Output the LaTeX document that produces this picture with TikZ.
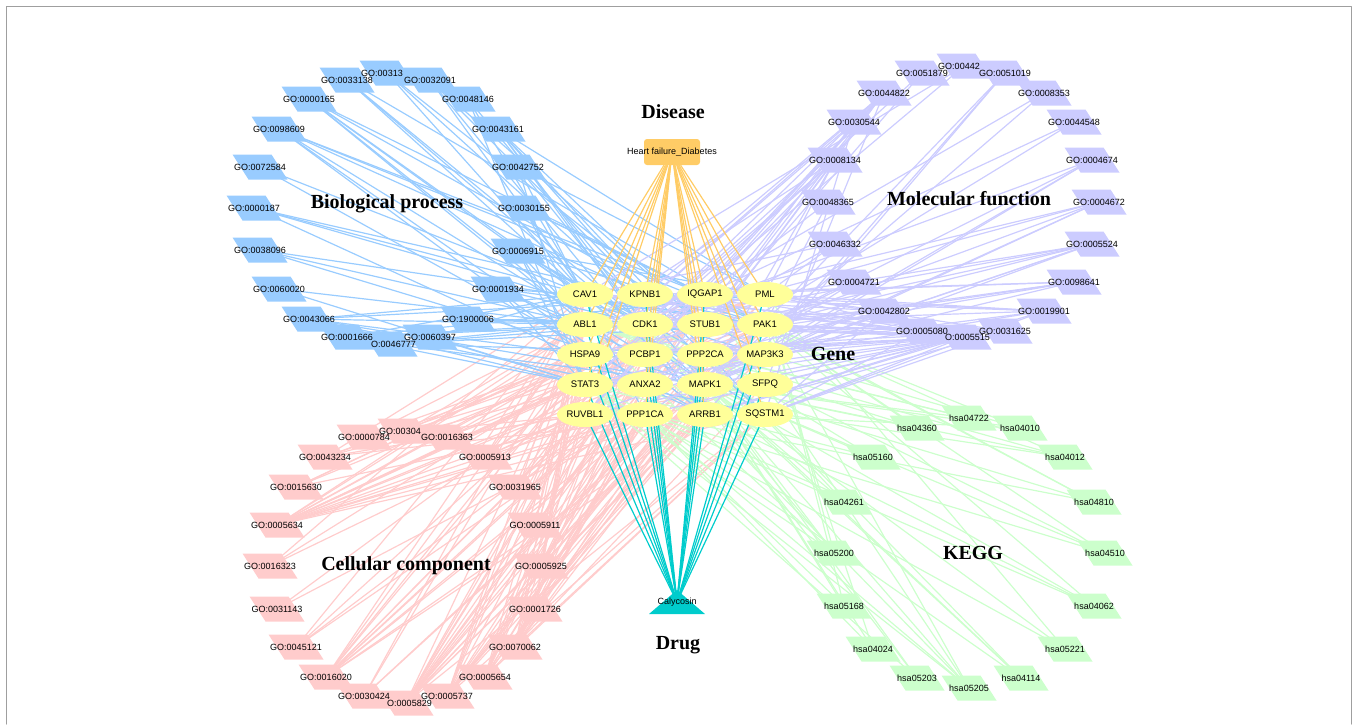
\documentclass[tikz,border=0pt]{standalone}
\usepackage{fontspec}
\setmainfont{Liberation Serif}
\setsansfont{Liberation Sans}
\usetikzlibrary{shapes.geometric}
\pgfdeclarelayer{background}
\pgfsetlayers{background,main}

\definecolor{bpblue}{RGB}{153,204,255}
\definecolor{mfviolet}{RGB}{204,204,255}
\definecolor{ccpink}{RGB}{255,204,204}
\definecolor{kegggreen}{RGB}{204,255,204}
\definecolor{genefill}{RGB}{255,255,153}
\definecolor{disorange}{RGB}{255,204,102}
\definecolor{drugteal}{RGB}{0,204,204}

\tikzset{
  term/.style={rectangle, minimum width=55pt, minimum height=25pt, inner sep=0pt,
    path picture={\fill[#1] (path picture bounding box.north west) --
      ([xshift=-16pt]path picture bounding box.north east) -- (path picture bounding box.south east) --
      ([xshift=16pt]path picture bounding box.south west) -- cycle;}},
  termtext/.style={font=\sffamily\fontsize{9}{9}\selectfont, inner sep=0pt},
  gene/.style={ellipse, fill=genefill, minimum width=56pt, minimum height=25pt,
    inner sep=0pt, font=\sffamily\fontsize{9.5}{10}\selectfont},
  disnode/.style={rectangle, rounded corners=3pt, fill=disorange, minimum width=56pt,
    minimum height=26pt, inner sep=0pt},
  drugnode/.style={minimum width=56pt, minimum height=24pt, inner sep=0pt,
    font=\sffamily\fontsize{9}{9}\selectfont,
    path picture={\fill[drugteal] (path picture bounding box.south west) --
      (path picture bounding box.south east) -- (path picture bounding box.north) -- cycle;}},
  grouptitle/.style={font=\bfseries\fontsize{20}{20}\selectfont, inner sep=0pt},
  link/.style={line width=1.2pt},
}

% terms: name/x/y/text
\def\bpterms{bp1/347/80/{GO:0033138}, bp2/387/73/{GO:00313\phantom{97}}, bp3/430/80/{GO:0032091},
  bp4/468/99/{GO:0048146}, bp5/309/99/{GO:0000165}, bp6/279/129/{GO:0098609},
  bp7/498/129/{GO:0043161}, bp8/260/167/{GO:0072584}, bp9/518/167/{GO:0042752},
  bp10/254/208/{GO:0000187}, bp11/524/208/{GO:0030155}, bp12/260/250/{GO:0038096},
  bp13/518/251/{GO:0006915}, bp14/279/289/{GO:0060020}, bp15/498/289/{GO:0001934},
  bp16/309/319/{GO:0043066}, bp17/468/319/{GO:1900006}, bp18/347/337/{GO:0001666},
  bp19/390/344/{\phantom{G}O:0046777}, bp20/430/337/{GO:0060397}}
\def\mfterms{mf1/922/73/{GO:0051879}, mf2/964/66/{GO:00442\phantom{97}}, mf3/1005/73/{GO:0051019},
  mf4/884/93/{GO:0044822}, mf5/1044/93/{GO:0008353}, mf6/854/122/{GO:0030544},
  mf7/1074/122/{GO:0044548}, mf8/835/160/{GO:0008134}, mf9/1092/160/{GO:0004674},
  mf10/828/202/{GO:0048365}, mf11/1099/202/{GO:0004672}, mf12/835/244/{GO:0046332},
  mf13/1092/244/{GO:0005524}, mf14/854/282/{GO:0004721}, mf15/1074/282/{GO:0098641},
  mf16/884/311/{GO:0042802}, mf17/1044/311/{GO:0019901}, mf18/922/331/{GO:0005080},
  mf19/964/337/{\phantom{G}O:0005515}, mf20/1005/331/{GO:0031625}}
\def\ccterms{cc1/364/437/{GO:0000784}, cc2/405/431/{GO:00304\phantom{26}}, cc3/447/437/{GO:0016363},
  cc4/325/457/{GO:0043234}, cc5/485/457/{GO:0005913}, cc6/296/487/{GO:0015630},
  cc7/515/487/{GO:0031965}, cc8/277/525/{GO:0005634}, cc9/535/525/{GO:0005911},
  cc10/270/566/{GO:0016323}, cc11/541/566/{GO:0005925}, cc12/277/609/{GO:0031143},
  cc13/535/609/{GO:0001726}, cc14/296/647/{GO:0045121}, cc15/515/647/{GO:0070062},
  cc16/326/677/{GO:0016020}, cc17/485/677/{GO:0005654}, cc18/364/696/{GO:0030424},
  cc19/406/703/{\phantom{G}O:0005829}, cc20/447/696/{GO:0005737}}
\def\kgterms{kg1/969/418/{hsa04722}, kg2/917/428/{hsa04360}, kg3/1020/428/{hsa04010},
  kg4/873/457/{hsa05160}, kg5/1065/457/{hsa04012}, kg6/844/502/{hsa04261},
  kg7/1094/502/{hsa04810}, kg8/834/553/{hsa05200}, kg9/1105/553/{hsa04510},
  kg10/844/606/{hsa05168}, kg11/1094/606/{hsa04062}, kg12/873/649/{hsa04024},
  kg13/1065/649/{hsa05221}, kg14/917/678/{hsa05203}, kg15/1021/678/{hsa04114},
  kg16/969/688/{hsa05205}}

\def\genes{cav1,kpnb1,iqgap1,pml,abl1,cdk1,stub1,pak1,hspa9,pcbp1,ppp2ca,map3k3,
  stat3,anxa2,mapk1,sfpq,ruvbl1,ppp1ca,arrb1,sqstm1}

% term -> genes
\def\bplinks{bp1/{cav1,mapk1,pak1,cdk1}, bp2/{stub1,sqstm1,cav1}, bp3/{cav1,arrb1,ppp2ca,stub1},
  bp4/{cav1,mapk1,stat3}, bp5/{mapk1,map3k3,pak1,cav1,arrb1,abl1},
  bp6/{kpnb1,iqgap1,hspa9,anxa2,pak1,pcbp1}, bp7/{stub1,sqstm1,kpnb1,pml,cdk1,arrb1},
  bp8/{cav1,arrb1}, bp9/{pml,ppp1ca,cdk1,stat3}, bp10/{cav1,map3k3,pak1,arrb1},
  bp11/{cav1,abl1,pak1,iqgap1}, bp12/{abl1,mapk1,pak1},
  bp13/{abl1,pml,stat3,cdk1,pak1,hspa9,sqstm1,ppp2ca}, bp14/{abl1,stat3},
  bp15/{cav1,abl1,stat3,pak1,mapk1,cdk1}, bp16/{pml,stat3,hspa9,sqstm1,cav1,mapk1,abl1},
  bp17/{abl1,pak1,cdk1}, bp18/{cav1,stat3,pml,cdk1,abl1},
  bp19/{abl1,pak1,map3k3,mapk1,cdk1}, bp20/{stat3,cav1}}
\def\mflinks{mf1/{stub1,cdk1}, mf2/{cav1,stat3}, mf3/{arrb1,mapk1,map3k3},
  mf4/{kpnb1,iqgap1,hspa9,pcbp1,anxa2,sfpq,ruvbl1,ppp1ca,stub1,cdk1}, mf5/{cdk1,mapk1},
  mf6/{stub1,hspa9,sqstm1}, mf7/{anxa2,iqgap1}, mf8/{pml,stat3,ruvbl1,cdk1,abl1,ppp1ca,mapk1},
  mf9/{cdk1,mapk1,pak1,map3k3}, mf10/{iqgap1,pak1}, mf11/{abl1,cdk1,mapk1,pak1,map3k3},
  mf12/{pml,stat3,cav1}, mf13/{abl1,cdk1,hspa9,mapk1,pak1,map3k3,ruvbl1}, mf14/{ppp2ca,ppp1ca},
  mf15/{iqgap1,kpnb1,hspa9,anxa2,pak1,pcbp1}, mf16/{stat3,pml,sqstm1,abl1,cav1,mapk1,stub1},
  mf17/{cav1,cdk1,stat3,pml,arrb1,sqstm1,ppp2ca,iqgap1}, mf18/{sqstm1,cav1,pak1},
  mf19/{cav1,kpnb1,iqgap1,pml,abl1,cdk1,stub1,pak1,hspa9,pcbp1,ppp2ca,map3k3,stat3,anxa2,mapk1,sfpq,ruvbl1,ppp1ca,arrb1,sqstm1},
  mf20/{stub1,cav1,pml,hspa9,sqstm1,arrb1,cdk1}}
\def\cclinks{cc1/{ruvbl1,kpnb1,pml}, cc2/{iqgap1,pak1,abl1}, cc3/{pml,sfpq,stat3,cdk1},
  cc4/{cav1,arrb1,ruvbl1,pml,stub1,ppp2ca}, cc5/{iqgap1,anxa2,pak1,abl1,cav1},
  cc6/{cdk1,pml,ppp1ca,iqgap1}, cc7/{abl1,pml,kpnb1,cdk1},
  cc8/{abl1,cdk1,kpnb1,pml,stat3,ruvbl1,sfpq,pcbp1,mapk1,ppp1ca,ppp2ca,hspa9,stub1,sqstm1,arrb1,pak1},
  cc9/{abl1,iqgap1,cav1,anxa2}, cc10/{cav1,iqgap1,anxa2},
  cc11/{cav1,hspa9,iqgap1,pak1,mapk1,anxa2,ppp1ca,abl1}, cc12/{mapk1,iqgap1},
  cc13/{cav1,iqgap1,pak1,abl1,ppp1ca,arrb1}, cc14/{cav1,stat3,anxa2,pak1},
  cc15/{cav1,kpnb1,iqgap1,hspa9,pcbp1,anxa2,mapk1,ppp1ca,ppp2ca,ruvbl1,pak1,sqstm1,cdk1},
  cc16/{cav1,kpnb1,iqgap1,hspa9,anxa2,pak1,abl1,arrb1,ruvbl1,stub1,ppp1ca,sfpq},
  cc17/{abl1,cdk1,kpnb1,pml,stat3,ruvbl1,sfpq,pcbp1,mapk1,ppp1ca,stub1,sqstm1},
  cc18/{pak1,abl1,mapk1,cav1},
  cc19/{abl1,cdk1,kpnb1,stat3,ruvbl1,pcbp1,mapk1,ppp1ca,ppp2ca,stub1,sqstm1,arrb1,pak1,map3k3,iqgap1,anxa2},
  cc20/{abl1,cdk1,cav1,pml,stat3,hspa9,mapk1,pak1,arrb1,sqstm1,stub1,iqgap1,ppp2ca}}
\def\kglinks{kg1/{abl1,mapk1,ppp2ca}, kg2/{pak1,abl1,mapk1}, kg3/{mapk1,map3k3,pak1,arrb1},
  kg4/{stat3,mapk1,ppp2ca}, kg5/{abl1,mapk1,pak1,stat3}, kg6/{ppp2ca,ppp1ca,mapk1},
  kg7/{iqgap1,pak1,mapk1,ppp1ca}, kg8/{abl1,stat3,pml,mapk1,cdk1}, kg9/{cav1,pak1,mapk1,ppp1ca},
  kg10/{pml,ppp1ca,mapk1}, kg11/{stat3,pak1,mapk1,arrb1}, kg12/{ppp1ca,mapk1,pak1},
  kg13/{stat3,pml,mapk1}, kg14/{cdk1,stat3,mapk1}, kg15/{cdk1,mapk1,ppp1ca,ppp2ca},
  kg16/{cav1,stat3,mapk1,ppp1ca,iqgap1,pak1}}

\begin{document}
\begin{tikzpicture}[x=1pt, y=-1pt, line join=round, line cap=round]
    \useasboundingbox (0,0) rectangle (1354,724);
    \draw[gray!75, line width=1pt] (6.5,724) -- (6.5,6.5) -- (1351,6.5) -- (1351,724);

    % genes in a 4x5 grid
    \foreach \g/\lab/\c/\r in {cav1/CAV1/0/0, kpnb1/KPNB1/1/0, iqgap1/IQGAP1/2/0, pml/PML/3/0,
        abl1/ABL1/0/1, cdk1/CDK1/1/1, stub1/STUB1/2/1, pak1/PAK1/3/1,
        hspa9/HSPA9/0/2, pcbp1/PCBP1/1/2, ppp2ca/PPP2CA/2/2, map3k3/MAP3K3/3/2,
        stat3/STAT3/0/3, anxa2/ANXA2/1/3, mapk1/MAPK1/2/3, sfpq/SFPQ/3/3,
        ruvbl1/RUVBL1/0/4, ppp1ca/PPP1CA/1/4, arrb1/ARRB1/2/4, sqstm1/SQSTM1/3/4}
        \node[gene] (\g) at (585+60*\c, 294.5+30*\r) {\lab};

    \node[disnode, label={[termtext]center:Heart failure\_Diabetes}] (dis) at (672,152) {};
    \node[drugnode] (drug) at (677,602) {Calycosin};

    % term shapes, then their texts on top
    \foreach \n/\px/\py/\t in \bpterms \node[term=bpblue] (\n) at (\px,\py) {};
    \foreach \n/\px/\py/\t in \mfterms \node[term=mfviolet] (\n) at (\px,\py) {};
    \foreach \n/\px/\py/\t in \ccterms \node[term=ccpink] (\n) at (\px,\py) {};
    \foreach \n/\px/\py/\t in \kgterms \node[term=kegggreen] (\n) at (\px,\py) {};
    \foreach \n/\px/\py/\t in \bpterms \node[termtext] (\n-t) at (\n) {\t};
    \foreach \n/\px/\py/\t in \mfterms \node[termtext] (\n-t) at (\n) {\t};
    \foreach \n/\px/\py/\t in \ccterms \node[termtext] (\n-t) at (\n) {\t};
    \foreach \n/\px/\py/\t in \kgterms \node[termtext] (\n-t) at (\n) {\t};

    % group titles
    \node[grouptitle] (tdis) at (673,112) {Disease};
    \node[grouptitle] (tdrug) at (678,645) {Drug};
    \node[grouptitle] (tgene) at (833,354) {Gene};
    \node[grouptitle] (tbp) at (387,204) {Biological process};
    \node[grouptitle] (tmf) at (969,199) {Molecular function};
    \node[grouptitle] (tcc) at (406,566) {Cellular component};
    \node[grouptitle] (tkg) at (973,553) {KEGG};

    \begin{pgfonlayer}{background}
        \foreach \a/\bs in \cclinks \foreach \b in \bs \draw[link, ccpink] (\a.center) -- (\b);
        \foreach \a/\bs in \kglinks \foreach \b in \bs \draw[link, kegggreen] (\a.center) -- (\b);
        \foreach \a/\bs in \bplinks \foreach \b in \bs \draw[link, bpblue] (\a.center) -- (\b);
        \foreach \a/\bs in \mflinks \foreach \b in \bs \draw[link, mfviolet] (\a.center) -- (\b);
        \foreach \g in \genes {
            \draw[link, disorange] (dis) -- (\g);
            \draw[link, drugteal] (drug.center) -- (\g);
        }
    \end{pgfonlayer}
\end{tikzpicture}
\end{document}
